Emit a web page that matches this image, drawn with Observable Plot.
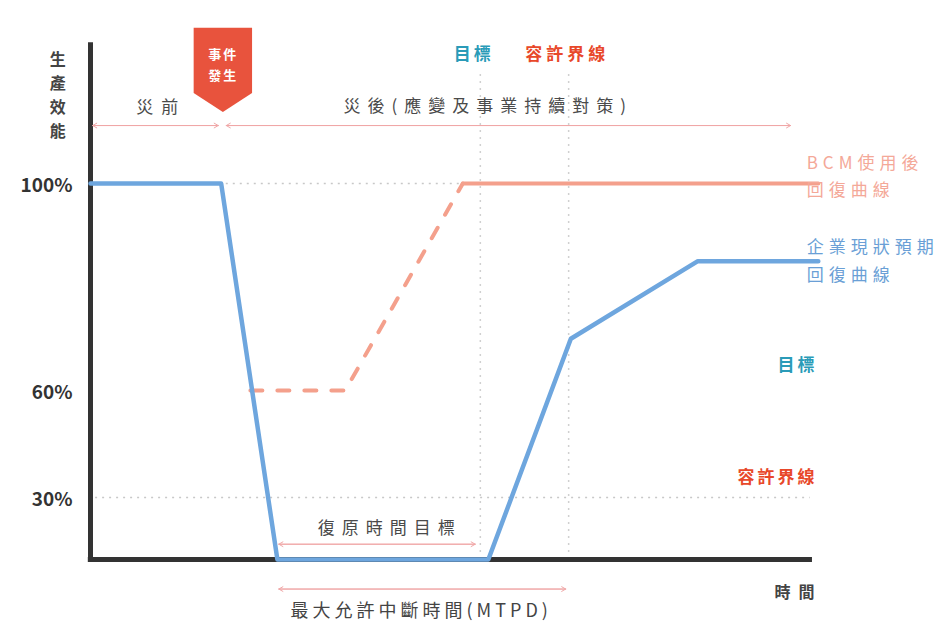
<!DOCTYPE html>
<html><head><meta charset="utf-8">
<script src="https://cdn.jsdelivr.net/npm/d3@7"></script>
<script src="https://cdn.jsdelivr.net/npm/@observablehq/plot@0.6"></script>
<style>
body{margin:0;background:#fff;}
.sp8 text{letter-spacing:8px}
.sp7 text{letter-spacing:7px}
.sp5 text{letter-spacing:5px}
.sp4 text{letter-spacing:4px}
.sp3 text{letter-spacing:3px}
.sp2 text{letter-spacing:2px}
</style></head><body><div id="chart"></div><script>
// ---- data (time in arbitrary units 0..100, production efficiency in %) ----
const blueTime  = [0, 17.9, 25.6, 54.5, 65.8, 83.2, 99.7];
const blueValue = [100, 100, 0, 0, 70, 85, 85];
const pinkDashTime  = [21.9, 34.9, 51];
const pinkDashValue = [60, 60, 100];
const pinkSolidTime  = [51, 99.7];
const pinkSolidValue = [100, 100];
const yTicks = [30, 60, 100];
const yTickLabels = ["30%", "60%", "100%"];
const eventTime = 18.2;
const markerTime = [14.2, 18.2, 22.2];
const markerBottom = [117.4, 113.7, 117.4];
const markerTop = 130;
const targetTime = 53.4;     // 目標
const toleranceTime = 65.5;  // 容許界線
const spans = [
  {name: "災前", t1: 0.3, t2: 17.5, v: 111.2},
  {name: "災後", t1: 18.6, t2: 95.9, v: 111.2},
  {name: "RTO", t1: 25.8, t2: 52.7, v: 7.4},
  {name: "MTPD", t1: 25.8, t2: 65.1, v: -14.3}
];

const font = "'Noto Sans CJK TC', 'Noto Sans', sans-serif";
const blue = "#6ea6de", pink = "#f4a08c", gray = "#4a4a4a";

// the reference's efficiency axis is schematic (not evenly spaced): piecewise transform
const yWarp = d3.scaleLinear().domain([0, 30, 60, 100]).range([0, 62, 169, 376]);

const blueData = blueTime.map((t, i) => ({t, v: blueValue[i]}));
const pinkDash = pinkDashTime.map((t, i) => ({t, v: pinkDashValue[i]}));
const pinkSolid = pinkSolidTime.map((t, i) => ({t, v: pinkSolidValue[i]}));
const marker = markerTime.map((t, i) => ({t, b: markerBottom[i], top: markerTop}));

const chart = Plot.plot({
  width: 948, height: 628,
  marginLeft: 90, marginRight: 128, marginTop: 0, marginBottom: 0,
  x: {domain: [0, 100], axis: null},
  y: {domain: [0, 376], range: [559, 183], transform: (v) => yWarp(v), axis: null},
  style: {fontFamily: font, background: "#fff"},
  marks: [
    // guides
    Plot.ruleY([30], {x1: 0.7, x2: 98.6, stroke: "#c8c8c8", strokeWidth: 1.5, strokeDasharray: "2,5"}),
    Plot.ruleY([100], {x1: 18.6, x2: 51, stroke: "#c8c8c8", strokeWidth: 1.5, strokeDasharray: "2,5"}),
    Plot.ruleX([targetTime, toleranceTime], {y1: 0, y2: 122, stroke: "#d0d0d0", strokeWidth: 1.5, strokeDasharray: "2,5"}),
    // axes lines
    Plot.ruleX([0], {y1: -1.5, y2: 127.2, stroke: "#333", strokeWidth: 5}),
    Plot.ruleY([0], {x1: -0.3, x2: 98.9, stroke: "#333", strokeWidth: 5}),
    // axis ticks are given in the scale's (warped) domain
    Plot.axisY({ticks: yTicks.map(yWarp), tickFormat: (d, i) => yTickLabels[i], tickSize: 0, tickPadding: 18,
      fontSize: 19, fontWeight: "bold", color: "#333", fontFamily: "'Noto Sans CJK TC', sans-serif", dy: 2}),
    // curves
    Plot.line(pinkDash, {x: "t", y: "v", stroke: pink, strokeWidth: 4, strokeDasharray: "12,15"}),
    Plot.line(pinkSolid, {x: "t", y: "v", stroke: pink, strokeWidth: 4}),
    Plot.line(blueData, {x: "t", y: "v", stroke: blue, strokeWidth: 4.5}),
    // arrows (double headed)
    Plot.arrow(spans, {x1: "t1", x2: "t2", y1: "v", y2: "v", bend: false, headLength: 7, stroke: "#f0a8a8", strokeWidth: 1}),
    Plot.arrow(spans, {x1: "t2", x2: "t1", y1: "v", y2: "v", bend: false, headLength: 7, stroke: "#f0a8a8", strokeWidth: 1}),
    // event marker
    Plot.areaY(marker, {x: "t", y1: "b", y2: "top", fill: "#e8533d"}),
    Plot.text(["事件", "發生"], {x: eventTime, y: [124.9, 120.9], text: (d) => d, fill: "#fff", fontSize: 13, fontWeight: "bold", className: "sp2"}),
    // y label
    Plot.text(["生\n產\n效\n能"], {x: -4.5, y: 117.5, text: (d) => d, fill: "#444", fontSize: 16, fontWeight: "bold", lineHeight: 1.5}),
    // gray labels
    Plot.text(["災前"], {x: 9.7, y: 114.6, text: (d) => d, fill: gray, fontSize: 17, className: "sp8"}),
    Plot.text(["災後(應變及事業持續對策)"], {x: 54.5, y: 114.8, text: (d) => d, fill: gray, fontSize: 17, className: "sp7"}),
    Plot.text(["復原時間目標"], {x: 41, y: 15.2, text: (d) => d, fill: gray, fontSize: 17, className: "sp7"}),
    Plot.text(["最大允許中斷時間(MTPD)"], {x: 45.3, y: -25, text: (d) => d, fill: "#444", fontSize: 18, className: "sp4"}),
    Plot.text(["時間"], {x: 97, y: -16.2, text: (d) => d, fill: "#444", fontSize: 16, fontWeight: "bold", className: "sp8"}),
    // top labels
    Plot.text(["目標"], {x: 52.5, y: 125, text: (d) => d, fill: "#2a9bb8", fontSize: 17, fontWeight: "bold", className: "sp3"}),
    Plot.text(["容許界線"], {x: 65.3, y: 125, text: (d) => d, fill: "#e8482a", fontSize: 17, fontWeight: "bold", className: "sp4"}),
    // right labels
    Plot.text(["BCM使用後", "回復曲線"], {x: 98.1, y: [103.9, 98.6], text: (d) => d, textAnchor: "start", fill: "#f4a898", fontSize: 17, className: "sp5"}),
    Plot.text(["企業現狀預期", "回復曲線"], {x: 98.1, y: [87.6, 82.2], text: (d) => d, textAnchor: "start", fill: "#6a9fd6", fontSize: 17, className: "sp5"}),
    Plot.text(["目標"], {x: 99.6, y: 64.8, text: (d) => d, textAnchor: "end", fill: "#2a9bb8", fontSize: 17, fontWeight: "bold", className: "sp3"}),
    Plot.text(["容許界線"], {x: 99.6, y: 35.6, text: (d) => d, textAnchor: "end", fill: "#e8482a", fontSize: 17, fontWeight: "bold", className: "sp3"})
  ]
});
document.getElementById("chart").appendChild(chart);
</script></body></html>
